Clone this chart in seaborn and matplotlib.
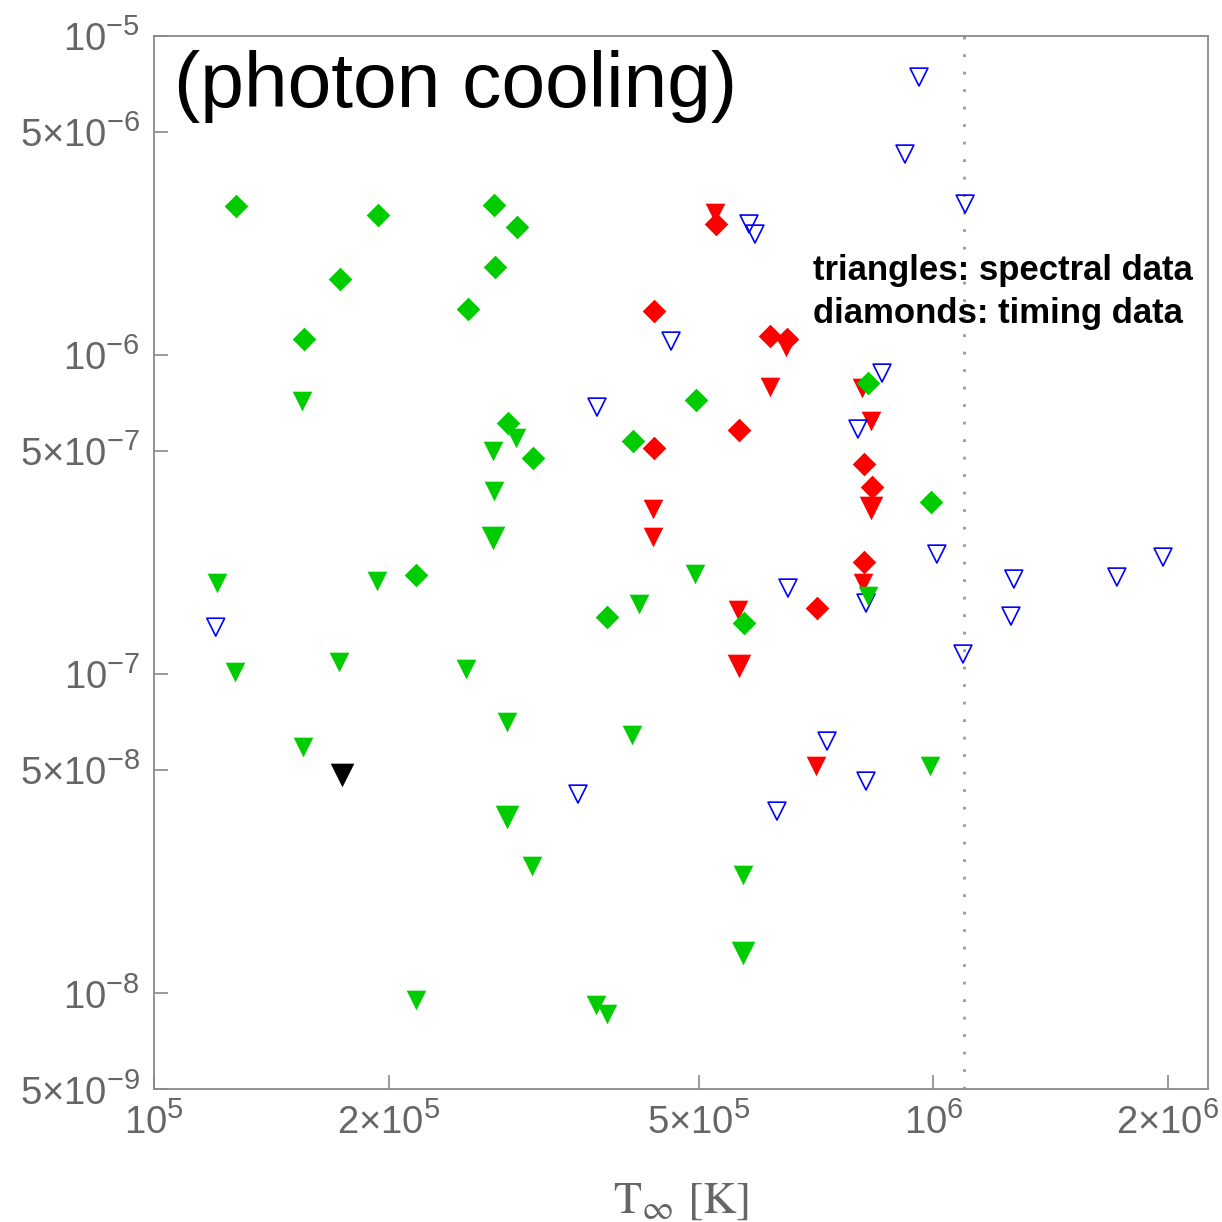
import matplotlib
matplotlib.use("Agg")
import matplotlib.pyplot as plt
import matplotlib._mathtext as _mt
import seaborn as sns
import pandas as pd
from matplotlib.ticker import FixedLocator, FixedFormatter, NullLocator

# ---------------- data ----------------
# green diamonds (timing data)
gd_T = [1.274e5, 1.938e5, 1.732e5, 1.557e5, 2.730e5, 2.922e5, 2.738e5, 2.528e5,
        4.958e5, 2.845e5, 3.063e5, 4.117e5, 2.168e5, 3.812e5, 5.713e5, 8.241e5, 9.926e5]
gd_y = [2.922e-6, 2.739e-6, 1.725e-6, 1.119e-6, 2.943e-6, 2.511e-6, 1.882e-6, 1.390e-6,
        7.205e-7, 6.105e-7, 4.742e-7, 5.361e-7, 2.039e-7, 1.505e-7, 1.442e-7, 8.147e-7, 3.452e-7]

# green triangles (spectral data)
gt_T = [1.204e5, 1.270e5, 1.548e5, 1.553e5, 1.727e5, 1.932e5, 2.168e5, 2.513e5,
        2.722e5, 2.730e5, 2.913e5, 2.837e5, 3.054e5, 3.690e5, 3.812e5, 4.105e5,
        4.191e5, 4.943e5, 5.696e5, 8.241e5, 9.897e5]
gt_y = [1.924e-7, 1.012e-7, 7.154e-7, 5.893e-8, 1.088e-7, 1.952e-7, 9.493e-9, 1.034e-7,
        4.988e-7, 3.738e-7, 5.478e-7, 7.057e-8, 2.496e-8, 9.158e-9, 8.582e-9, 6.427e-8,
        1.654e-7, 2.054e-7, 2.340e-8, 1.752e-7, 5.138e-8]
# larger green triangles
gtb_T = [2.722e5, 2.837e5, 5.696e5]
gtb_y = [2.663e-7, 3.555e-8, 1.333e-8]

# black triangle
bk_T = [1.742e5]
bk_y = [4.815e-8]

# red diamonds
rd_T = [5.260e5, 4.380e5, 6.170e5, 6.487e5, 5.630e5, 4.380e5, 8.143e5, 8.339e5, 8.143e5, 7.088e5]
rd_y = [2.567e-6, 1.370e-6, 1.144e-6, 1.119e-6, 5.804e-7, 5.097e-7, 4.542e-7, 3.847e-7, 2.239e-7, 1.607e-7]

# red triangles
rt_T = [5.245e5, 6.468e5, 6.170e5, 4.368e5, 4.368e5, 5.613e5, 8.095e5, 8.314e5, 8.120e5, 7.068e5]
rt_y = [2.778e-6, 1.056e-6, 7.916e-7, 3.283e-7, 2.682e-7, 1.584e-7, 7.858e-7, 6.194e-7, 1.924e-7, 5.138e-8]
# larger red triangles
rtb_T = [5.630e5, 8.314e5]
rtb_y = [1.057e-7, 3.306e-7]

# blue open triangles
bt_T = [9.581e5, 9.192e5, 1.098e6, 5.798e5, 5.902e5, 4.606e5, 3.701e5, 8.590e5,
        8.000e5, 1.010e6, 1.268e6, 1.719e6, 1.970e6, 1.257e6, 1.091e6, 8.193e5,
        6.506e5, 7.302e5, 8.193e5, 6.298e5, 3.499e5, 1.200e5]
bt_y = [7.41e-6, 4.252e-6, 2.964e-6, 2.567e-6, 2.387e-6, 1.103e-6, 6.851e-7, 8.756e-7,
        5.846e-7, 2.372e-7, 1.981e-7, 2.010e-7, 2.321e-7, 1.516e-7, 1.153e-7, 1.666e-7,
        1.856e-7, 6.154e-8, 4.611e-8, 3.713e-8, 4.198e-8, 1.400e-7]

T_line = 1.095e6

x_ticks = [1e5, 2e5, 5e5, 1e6, 2e6]
x_ticklabels = [r"$10^{5}$", r"$2{\times}10^{5}$", r"$5{\times}10^{5}$",
                r"$10^{6}$", r"$2{\times}10^{6}$"]
y_ticks = [5e-9, 1e-8, 5e-8, 1e-7, 5e-7, 1e-6, 5e-6, 1e-5]
y_ticklabels = [r"$5{\times}10^{-9}$", r"$10^{-8}$", r"$5{\times}10^{-8}$", r"$10^{-7}$",
                r"$5{\times}10^{-7}$", r"$10^{-6}$", r"$5{\times}10^{-6}$", r"$10^{-5}$"]

title_text = "(photon cooling)"
note1 = "triangles: spectral data"
note2 = "diamonds: timing data"
x_label = r"$\mathrm{T}_{\infty}\ \mathrm{[K]}$"

# ---------------- style ----------------
_mt.SHRINK_FACTOR = 0.76   # larger superscripts, as in the original

sns.set_style("white")
plt.rcParams["font.family"] = ["Liberation Sans", "DejaVu Sans"]
plt.rcParams["mathtext.fontset"] = "custom"
plt.rcParams["mathtext.rm"] = "Liberation Sans"
plt.rcParams["mathtext.it"] = "Liberation Sans:italic"
plt.rcParams["mathtext.bf"] = "Liberation Sans:bold"

GREEN = "#00CC00"
RED = "#FF0000"
BLUE = "#0000FF"
AXC = "#8a8a8a"
TXC = "#666666"

fig = plt.figure(figsize=(12.22, 12.22), dpi=100)
W = 1222.0
ax = fig.add_axes([154 / W, 1 - 1089 / W, (1208 - 154) / W, (1089 - 35.5) / W])
ax.set_xscale("log")
ax.set_yscale("log")

def df(T, y):
    return pd.DataFrame({"T": T, "y": y})

S_TRI = 200
S_TRI_BIG = 290
S_DIA = 145

# red
sns.scatterplot(data=df(rt_T, rt_y), x="T", y="y", ax=ax, marker="v", s=S_TRI,
                color=RED, linewidth=0, zorder=3)
sns.scatterplot(data=df(rtb_T, rtb_y), x="T", y="y", ax=ax, marker="v", s=S_TRI_BIG,
                color=RED, linewidth=0, zorder=3)
sns.scatterplot(data=df(rd_T, rd_y), x="T", y="y", ax=ax, marker="D", s=S_DIA,
                color=RED, linewidth=0, zorder=3)
# blue open
sns.scatterplot(data=df(bt_T, bt_y), x="T", y="y", ax=ax, marker="v", s=165,
                facecolor="none", edgecolor=BLUE, linewidth=1.2, zorder=4)
# green
sns.scatterplot(data=df(gt_T, gt_y), x="T", y="y", ax=ax, marker="v", s=S_TRI,
                color=GREEN, linewidth=0, zorder=5)
sns.scatterplot(data=df(gtb_T, gtb_y), x="T", y="y", ax=ax, marker="v", s=S_TRI_BIG,
                color=GREEN, linewidth=0, zorder=5)
sns.scatterplot(data=df(gd_T, gd_y), x="T", y="y", ax=ax, marker="D", s=S_DIA,
                color=GREEN, linewidth=0, zorder=5)
# black
sns.scatterplot(data=df(bk_T, bk_y), x="T", y="y", ax=ax, marker="v", s=S_TRI_BIG,
                color="black", linewidth=0, zorder=6)

ax.axvline(T_line, color="#999999", linewidth=2.0, linestyle=(0, (1, 5.3)), zorder=2)

ax.set_xlim(1e5, 2.25e6)
ax.set_ylim(5e-9, 1e-5)

ax.xaxis.set_major_locator(FixedLocator(x_ticks))
ax.xaxis.set_major_formatter(FixedFormatter(x_ticklabels))
ax.xaxis.set_minor_locator(NullLocator())
ax.yaxis.set_major_locator(FixedLocator(y_ticks))
ax.yaxis.set_major_formatter(FixedFormatter(y_ticklabels))
ax.yaxis.set_minor_locator(NullLocator())

ax.tick_params(axis="both", which="major", direction="in", length=10, width=1.2,
               color=AXC, labelcolor=TXC, labelsize=27.5, pad=10,
               bottom=True, left=True, top=False, right=False)
for sp in ax.spines.values():
    sp.set_color(AXC)
    sp.set_linewidth(1.3)
    sp.set_visible(True)

ax.set_ylabel("")
ax.set_xlabel(x_label, fontsize=33, color=TXC, math_fontfamily="stix")
ax.xaxis.set_label_coords(0.5, -0.085)

ax.text(0.019, 0.9317, title_text, transform=ax.transAxes, fontsize=56.5,
        color="black", ha="left", va="baseline")
ax.text(0.6252, 0.7676, note1, transform=ax.transAxes, fontsize=25,
        fontweight="bold", color="black", ha="left", va="baseline", zorder=7)
ax.text(0.6252, 0.7268, note2, transform=ax.transAxes, fontsize=25,
        fontweight="bold", color="black", ha="left", va="baseline", zorder=7)

fig.savefig("out.png", dpi=100)
